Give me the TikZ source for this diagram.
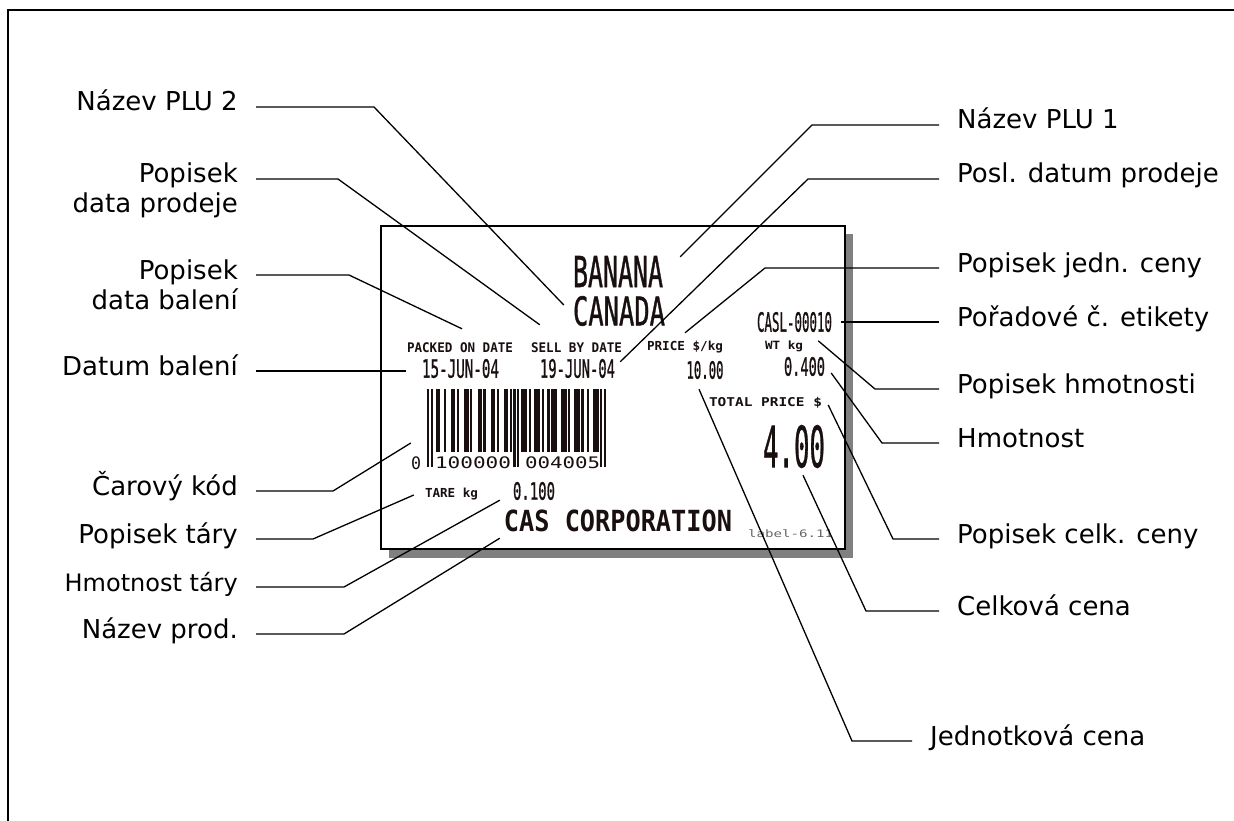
\documentclass[tikz,border=0pt]{standalone}
\usepackage{fontspec}
\usepackage{graphicx}
\setmainfont{DejaVu Sans}
\newfontfamily\prtfont{DejaVu Sans Mono}
\newfontfamily\prtmidfont[FakeBold=1.2]{DejaVu Sans Mono}
\definecolor{ink}{RGB}{25,15,15}
\definecolor{shadowgray}{RGB}{128,128,128}
\newcommand{\prt}[3]{\resizebox*{#1pt}{#2pt}{#3}}
\tikzset{
    lbl/.style={font=\fontsize{26}{30}\selectfont, inner xsep=18pt, inner ysep=0pt, text height=12pt, text depth=4pt},
    lblL/.style={lbl, anchor=east},
    lblR/.style={lbl, anchor=west},
    printed/.style={inner sep=0pt, text=ink, font=\prtfont\bfseries},
    printmid/.style={printed, font=\prtmidfont},
    printthin/.style={printed, font=\prtfont},
    leader/.style={line width=1.3pt}
}

\begin{document}
\begin{tikzpicture}[x=1pt, y=-1pt]
\useasboundingbox (0,0) rectangle (1234,821);
\draw[line width=2.2pt] (8,821) -- (8,10) -- (1234,10);

% the printed label
\fill[shadowgray] (389,234) rectangle (853,558);
\draw[line width=2pt, fill=white] (381,226) rectangle (845,549);

\node[printmid] (banana) at (618,271.5) {\prt{90}{31}{BANANA}};
\node[printmid] (canada) at (619,311) {\prt{92}{30}{CANADA}};
\node[printed] (packed) at (460,348) {\prt{106}{10}{PACKED ON DATE}};
\node[printed] (sellby) at (576.5,348) {\prt{91}{10}{SELL BY DATE}};
\node[printed] (pricelbl) at (685,347) {\prt{76}{12}{PRICE \$/kg}};
\node[printed] (wtlbl) at (784,346.5) {\prt{38}{11}{WT kg}};
\node[printmid] (packdate) at (460.5,368.5) {\prt{77}{19}{15-JUN-04}};
\node[printmid] (selldate) at (577.5,368.5) {\prt{75}{19}{19-JUN-04}};
\node[printmid] (unitprice) at (705,370) {\prt{37}{18}{10.00}};
\node[printmid] (weight) at (804.5,366.5) {\prt{41}{19}{0.400}};
\node[printmid] (serial) at (794.5,322) {\prt{75}{20}{CASL-00010}};
\node[printed] (totallbl) at (765.5,402.5) {\prt{113}{11}{TOTAL PRICE \$}};
\node[printmid] (total) at (794,446.5) {\prt{62}{43}{4.00}};
\node[printed] (tarelbl) at (451.5,494) {\prt{53}{12}{TARE kg}};
\node[printmid] (tare) at (534,491) {\prt{42}{18}{0.100}};
\node[printed] (company) at (618,521) {\prt{228}{22}{CAS CORPORATION}};
\node[printthin, text=gray!80!black] (version) at (790.5,534) {\prt{85}{8}{label-6.11}};

\node[minimum width=179pt, minimum height=79pt, inner sep=0pt] (barcode) at (516.5,428.5) {};
\foreach \s/\w in {5/2, 9/1, 13/2, 16/1, 20/2, 23/1, 27/2, 30/1, 34/2, 37/1, 41/2, 44/1,
                   50/3, 54/1, 57/3, 61/1, 64/1, 66/3, 71/3, 75/1, 78/3, 82/1, 85/1, 88/3}
    \fill[ink] ([xshift=\s*1.884pt]barcode.north west) rectangle ++(\w*1.884+0.4,63);
\foreach \s in {0,2,46,48,92,94}
    \fill[ink] ([xshift=\s*1.884pt]barcode.north west) rectangle ++(2.2,78);
\node[printthin] (bc0) at (416,463) {\prt{10}{13}{0}};
\node[printthin] (bc1) at (473,463) {\prt{76}{12}{100000}};
\node[printthin] (bc2) at (562.5,463) {\prt{75}{12}{004005}};

% left captions
\node[lblL] (plu2) at (256,107) {Název PLU 2};
\node[lblL] (dp1) at (256,179) {Popisek};
\node[lbl, anchor=base east] (dp2) at ([yshift=-30pt]dp1.base east) {data prodeje};
\node[lblL] (db1) at (256,275) {Popisek};
\node[lbl, anchor=base east] (db2) at ([yshift=-30pt]db1.base east) {data balení};
\node[lblL] (datum) at (256,371) {Datum balení};
\node[lblL] (carkod) at (256,491) {Čarový kód};
\node[lblL] (tarel) at (256,539) {Popisek táry};
\node[lblL, font=\fontsize{24}{28}\selectfont] (hmtar) at (256,587) {Hmotnost táry};
\node[lblL] (nazprod) at (256,634) {Název prod.};

% right captions
\node[lblR] (plu1) at (939,125) {Název PLU 1};
\node[lblR] (posl) at (939,179) {Posl. datum prodeje};
\node[lblR] (jedn) at (939,268) {Popisek jedn. ceny};
\node[lblR] (porad) at (939,322) {Pořadové č. etikety};
\node[lblR] (popish) at (939,389) {Popisek hmotnosti};
\node[lblR] (hmot) at (939,443) {Hmotnost};
\node[lblR] (celkl) at (939,539) {Popisek celk. ceny};
\node[lblR] (celk) at (939,611) {Celková cena};
\node[lblR] (jednc) at (912,741) {Jednotková cena};

\draw[leader] (plu2.east) -- ++(118,0) -- ([shift={(-9,-6)}]canada.west);
\draw[leader] (dp1.east) -- ++(82,0) -- ([shift={(9,-18)}]sellby.north west);
\draw[leader] (db1.east) -- ++(93,0) -- ([shift={(2,-14)}]packed.north);
\draw[leader] (datum.east) -- ([xshift=-16pt]packdate.west |- datum.east);
\draw[leader] (carkod.east) -- ++(77,0) -- ([shift={(-16,14.5)}]barcode.west);
\draw[leader] (tarel.east) -- ++(57,0) -- ([shift={(-11,1)}]tarelbl.west);
\draw[leader] (hmtar.east) -- ++(88,0) -- ([shift={(-13,0)}]tare.south west);
\draw[leader] (nazprod.east) -- ++(88,0) -- ([shift={(-4,6)}]company.south west);

\draw[leader] (plu1.west) -- ++(-127,0) -- ([shift={(17,1)}]banana.north east);
\draw[leader] (posl.west) -- ++(-131,0) -- ([shift={(5,3)}]selldate.north east);
\draw[leader] (jedn.west) -- ++(-174,0) -- ([shift={(0,-8)}]pricelbl.north);
\draw[leader] (porad.west) -- ([xshift=9pt]serial.east |- porad.west);
\draw[leader] (popish.west) -- ++(-64,0) -- ([shift={(15,0)}]wtlbl.north east);
\draw[leader] (hmot.west) -- ++(-57,0) -- ([shift={(6,6.5)}]weight.east);
\draw[leader] (celkl.west) -- ++(-46,0) -- ([shift={(6,2.5)}]totallbl.east);
\draw[leader] (celk.west) -- ++(-73,0) -- ([shift={(9,7)}]total.south);
\draw[leader] (jednc.west) -- ++(-60,0) -- ([shift={(-6,10)}]unitprice.south);
\end{tikzpicture}
\end{document}
